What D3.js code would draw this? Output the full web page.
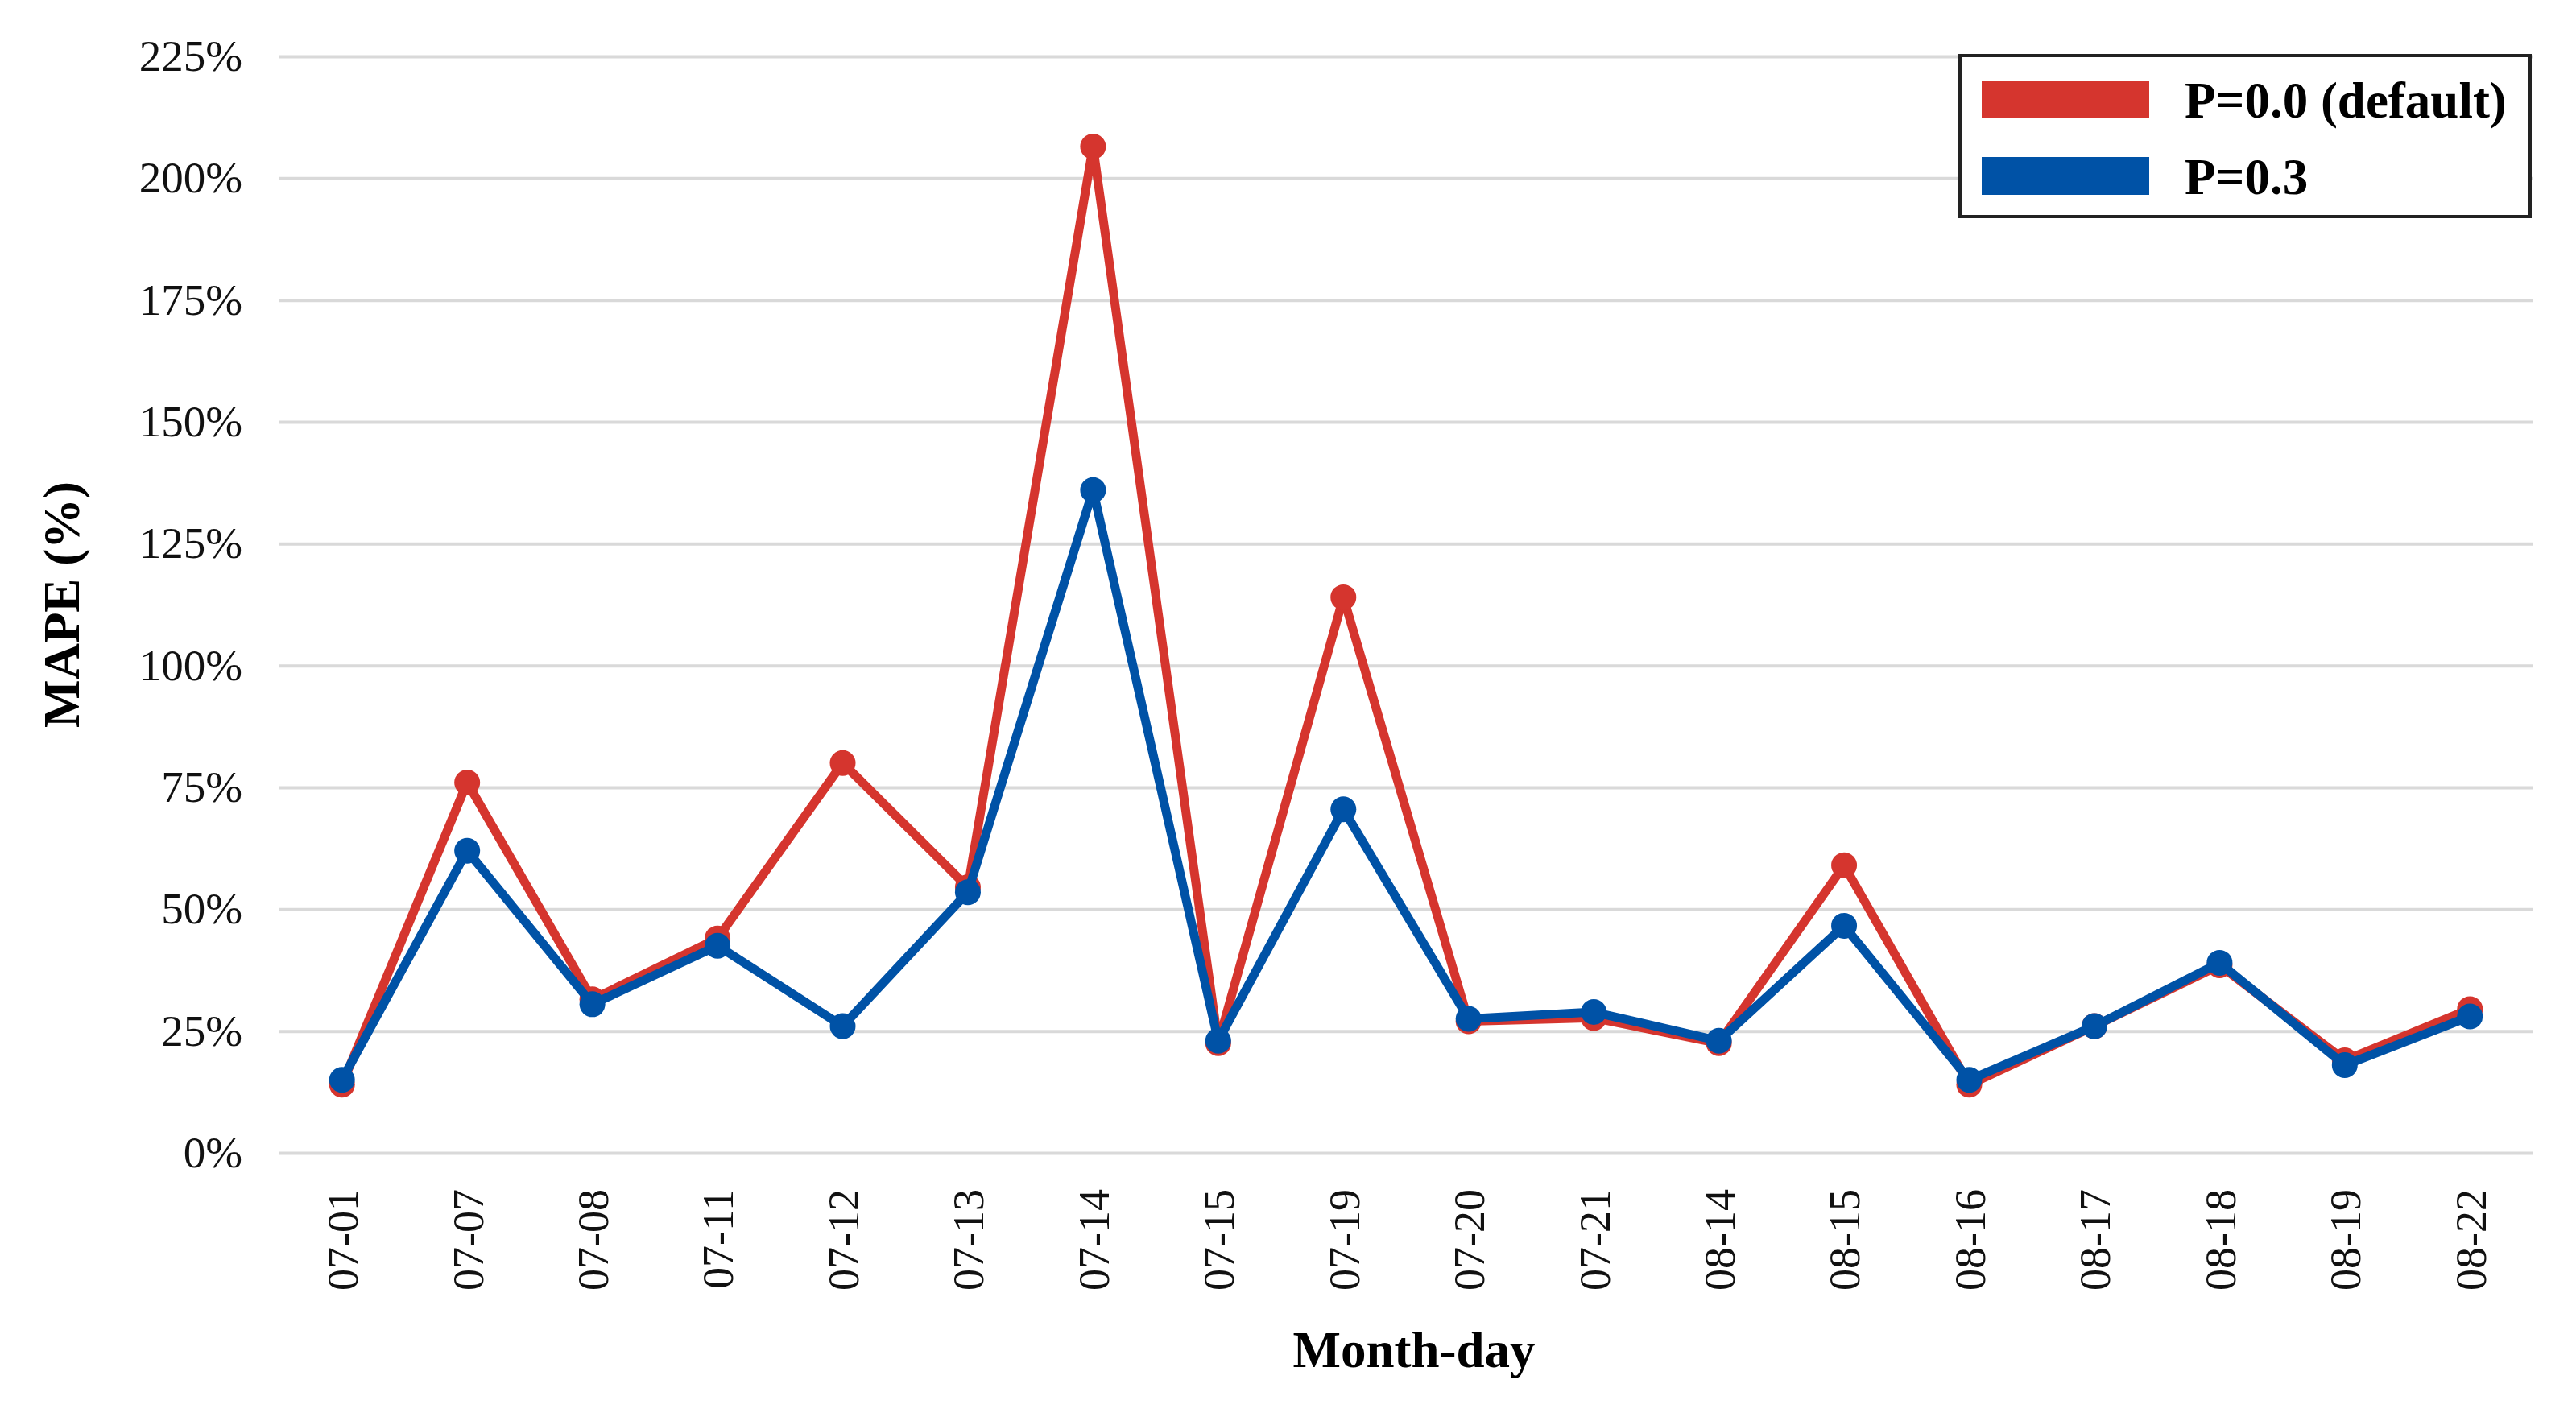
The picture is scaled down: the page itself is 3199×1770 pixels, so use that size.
<!DOCTYPE html>
<html>
<head>
<meta charset="utf-8">
<title>MAPE by month-day</title>
<script src="https://cdn.jsdelivr.net/npm/d3@7/dist/d3.min.js"></script>
<style>
  html, body { margin: 0; padding: 0; background: #fff; }
  svg { display: block; font-family: "Liberation Serif", "Times New Roman", serif; }
</style>
</head>
<body>
<div id="chart"></div>
<script>
// categories on the x axis
var days = ['07-01', '07-07', '07-08', '07-11', '07-12', '07-13', '07-14', '07-15', '07-19',
  '07-20', '07-21', '08-14', '08-15', '08-16', '08-17', '08-18', '08-19', '08-22'];

// MAPE in percent
var mapeDefault = [14, 76, 31.5, 44, 80, 54.5, 206.5, 22.5, 114, 27, 27.7, 22.5, 59, 14, 26, 38.5, 19, 29.5];
var mapeP03 = [15, 62, 30.5, 42.5, 26, 53.5, 136, 23, 70.5, 27.5, 28.9, 23, 46.6, 15, 26, 39, 18, 28];

var seriesNames = ['P=0.0 (default)', 'P=0.3'];
var yTicks = [0, 25, 50, 75, 100, 125, 150, 175, 200, 225];

(function() {
  'use strict';

  var width = 3199;
  var height = 1770;
  var left = 347, right = 3145, top = 70, bottom = 1432;
  var colors = ['#d5352e', '#0052a6'];

  var series = [mapeDefault, mapeP03];

  var svg = d3.select('#chart')
    .append('svg')
    .attr('width', width)
    .attr('height', height);

  svg.append('rect')
    .attr('width', width)
    .attr('height', height)
    .attr('fill', '#fff');

  var x = d3.scalePoint()
    .domain(days)
    .range([left, right])
    .padding(0.5);

  var y = d3.scaleLinear()
    .domain([0, 225])
    .range([bottom, top]);

  // y axis with gridlines
  var yAxis = svg.append('g')
    .attr('transform', 'translate(' + left + ',0)')
    .call(d3.axisLeft(y)
      .tickValues(yTicks)
      .tickSize(-(right - left))
      .tickPadding(46)
      .tickFormat(function (d) { return d + '%'; }));

  yAxis.select('.domain').remove();
  yAxis.selectAll('.tick line')
    .attr('stroke', '#d9d9d9')
    .attr('stroke-width', 4);
  yAxis.selectAll('.tick text')
    .attr('font-size', 55)
    .attr('font-family', '"Liberation Serif", "Times New Roman", serif')
    .attr('fill', '#111');

  // x axis, rotated labels
  var xAxis = svg.append('g')
    .attr('transform', 'translate(0,1477)')
    .call(d3.axisBottom(x).tickSize(0).tickPadding(0));

  xAxis.select('.domain').remove();
  xAxis.selectAll('.tick text')
    .attr('transform', 'rotate(-90)')
    .attr('text-anchor', 'end')
    .attr('x', 0)
    .attr('y', 0)
    .attr('dy', '0.35em')
    .attr('font-size', 54)
    .attr('font-family', '"Liberation Serif", "Times New Roman", serif')
    .attr('fill', '#111');

  // lines and markers
  var line = d3.line()
    .x(function (d, i) { return x(days[i]); })
    .y(function (d) { return y(d); });

  series.forEach(function (values, s) {
    var g = svg.append('g');

    g.append('path')
      .datum(values)
      .attr('d', line)
      .attr('fill', 'none')
      .attr('stroke', colors[s])
      .attr('stroke-width', 11)
      .attr('stroke-linejoin', 'round');

    g.selectAll('circle')
      .data(values)
      .enter()
      .append('circle')
      .attr('cx', function (d, i) { return x(days[i]); })
      .attr('cy', function (d) { return y(d); })
      .attr('r', 16)
      .attr('fill', colors[s]);
  });

  // axis titles
  svg.append('text')
    .attr('transform', 'translate(76,' + ((top + bottom) / 2) + ') rotate(-90)')
    .attr('text-anchor', 'middle')
    .attr('dy', '0.35em')
    .attr('font-size', 63)
    .attr('font-weight', 'bold')
    .attr('fill', '#000')
    .text('MAPE (%)');

  svg.append('text')
    .attr('x', (left + right) / 2 + 10)
    .attr('y', 1698)
    .attr('text-anchor', 'middle')
    .attr('font-size', 63)
    .attr('font-weight', 'bold')
    .attr('fill', '#000')
    .text('Month-day');

  // legend
  var legend = svg.append('g');

  legend.append('rect')
    .attr('x', 2434)
    .attr('y', 69)
    .attr('width', 708)
    .attr('height', 200)
    .attr('fill', '#fff')
    .attr('stroke', '#222')
    .attr('stroke-width', 4);

  var items = legend.selectAll('.item')
    .data(seriesNames)
    .enter()
    .append('g')
    .attr('class', 'item')
    .attr('transform', function (d, i) { return 'translate(2461,' + (100 + i * 95) + ')'; });

  items.append('rect')
    .attr('width', 208)
    .attr('height', 47)
    .attr('fill', function (d, i) { return colors[i]; });

  items.append('text')
    .attr('x', 252)
    .attr('y', 24)
    .attr('dy', '0.35em')
    .attr('font-size', 63)
    .attr('font-weight', 'bold')
    .attr('fill', '#000')
    .text(function (d) { return d; });
})();
</script>
</body>
</html>
